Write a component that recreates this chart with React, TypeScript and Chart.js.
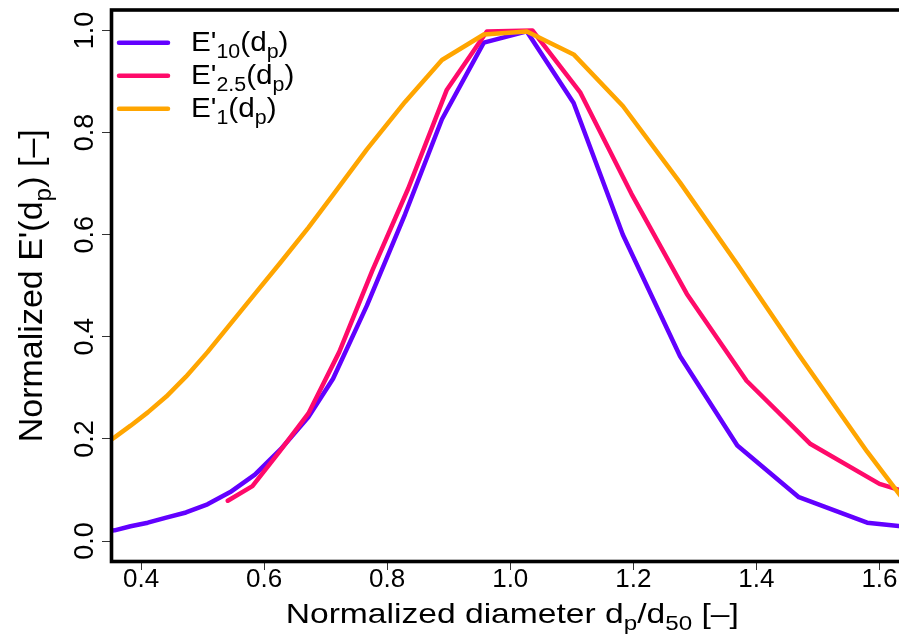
import React, { useEffect, useRef } from 'react';
import { Chart, registerables } from 'chart.js';

Chart.register(...registerables);

// ---- data ----
const xE10 = [0.333, 0.357, 0.383, 0.411, 0.441, 0.473, 0.508, 0.545, 0.585, 0.627, 0.672, 0.712, 0.767, 0.829, 0.889, 0.957, 1.027, 1.103, 1.183, 1.276, 1.369, 1.469, 1.580, 1.690];
const yE10 = [0.018, 0.021, 0.029, 0.036, 0.046, 0.056, 0.072, 0.096, 0.130, 0.180, 0.243, 0.318, 0.461, 0.640, 0.826, 0.976, 0.998, 0.858, 0.600, 0.362, 0.187, 0.086, 0.036, 0.022];

const xE25 = [0.541, 0.581, 0.625, 0.672, 0.722, 0.776, 0.834, 0.897, 0.962, 1.036, 1.114, 1.197, 1.287, 1.384, 1.488, 1.600, 1.720];
const yE25 = [0.079, 0.1075, 0.175, 0.250, 0.370, 0.530, 0.690, 0.884, 0.998, 1.000, 0.878, 0.680, 0.484, 0.314, 0.190, 0.112, 0.068];

const xE1 = [0.333, 0.357, 0.383, 0.411, 0.441, 0.473, 0.508, 0.545, 0.585, 0.627, 0.672, 0.712, 0.767, 0.829, 0.889, 0.957, 1.027, 1.103, 1.183, 1.276, 1.369, 1.469, 1.580, 1.690];
const yE1 = [0.183, 0.203, 0.226, 0.252, 0.283, 0.322, 0.370, 0.425, 0.484, 0.546, 0.614, 0.678, 0.767, 0.860, 0.942, 0.992, 0.998, 0.953, 0.852, 0.702, 0.542, 0.365, 0.175, 0.000];

const xTicks = [0.4, 0.6, 0.8, 1.0, 1.2, 1.4, 1.6];
const yTicks = [0.0, 0.2, 0.4, 0.6, 0.8, 1.0];

const seriesColors = ['#6200FF', '#FF0A6A', '#FFA500'];

type Part = { t: string; sub?: boolean };
const legendLabels: Part[][] = [
  [{ t: "E'" }, { t: '10', sub: true }, { t: '(d' }, { t: 'p', sub: true }, { t: ')' }],
  [{ t: "E'" }, { t: '2.5', sub: true }, { t: '(d' }, { t: 'p', sub: true }, { t: ')' }],
  [{ t: "E'" }, { t: '1', sub: true }, { t: '(d' }, { t: 'p', sub: true }, { t: ')' }],
];
const xTitle: Part[] = [{ t: 'Normalized diameter d' }, { t: 'p', sub: true }, { t: '/d' }, { t: '50', sub: true }, { t: ' [–]' }];
const yTitle: Part[] = [{ t: "Normalized E'(d" }, { t: 'p', sub: true }, { t: ') [–]' }];

const FONT = '"Liberation Sans", Arial, Helvetica, sans-serif';
const SUB = 0.72;

function richWidth(ctx: CanvasRenderingContext2D, parts: Part[], size: number) {
  let w = 0;
  for (const p of parts) {
    ctx.font = `${p.sub ? size * SUB : size}px ${FONT}`;
    w += ctx.measureText(p.t).width;
  }
  return w;
}

function drawRich(ctx: CanvasRenderingContext2D, parts: Part[], size: number, x0: number) {
  let x = x0;
  ctx.textAlign = 'left';
  ctx.textBaseline = 'alphabetic';
  for (const p of parts) {
    const s = p.sub ? size * SUB : size;
    ctx.font = `${s}px ${FONT}`;
    ctx.fillText(p.t, x, p.sub ? size * 0.26 : 0);
    x += ctx.measureText(p.t).width;
  }
}

const decorPlugin = {
  id: 'decor',
  afterDatasetsDraw(chart: any) {
    const ctx: CanvasRenderingContext2D = chart.ctx;
    const { left, right, top, bottom } = chart.chartArea;
    ctx.save();
    // box
    ctx.strokeStyle = '#000';
    ctx.lineWidth = 3.6;
    ctx.strokeRect(left, top, right - left, bottom - top);

    ctx.fillStyle = '#000';
    // x title
    const xs = 28, xsx = 1.2;
    const wx = richWidth(ctx, xTitle, xs) * xsx;
    ctx.save();
    ctx.translate((left + right) / 2 - wx / 2, 623);
    ctx.scale(xsx, 1);
    drawRich(ctx, xTitle, xs, 0);
    ctx.restore();

    // y title
    const ys = 34;
    const wy = richWidth(ctx, yTitle, ys);
    ctx.save();
    ctx.translate(42, (top + bottom) / 2);
    ctx.rotate(-Math.PI / 2);
    drawRich(ctx, yTitle, ys, -wy / 2);
    ctx.restore();

    // legend
    const ls = 27, lsx = 1.1;
    for (let i = 0; i < legendLabels.length; i++) {
      const y = 42.7 + i * 33;
      ctx.strokeStyle = seriesColors[i];
      ctx.lineWidth = 4.5;
      ctx.lineCap = 'round';
      ctx.beginPath();
      ctx.moveTo(119, y);
      ctx.lineTo(168, y);
      ctx.stroke();
      ctx.save();
      ctx.translate(191, y + 8);
      ctx.scale(lsx, 1);
      ctx.fillStyle = '#000';
      drawRich(ctx, legendLabels[i], ls, 0);
      ctx.restore();
    }
    ctx.restore();
  },
};

export default function App() {
  const ref = useRef<HTMLCanvasElement | null>(null);

  useEffect(() => {
    const canvas = ref.current;
    if (!canvas) return;
    const mk = (xs: number[], ys: number[]) => xs.map((x, i) => ({ x, y: ys[i] }));
    const ds = (label: string, xs: number[], ys: number[], color: string, order: number) => ({
      label,
      data: mk(xs, ys),
      borderColor: color,
      backgroundColor: color,
      borderWidth: 4.5,
      pointRadius: 0,
      fill: false,
      tension: 0,
      clip: 0,
      order,
      borderCapStyle: 'round',
      borderJoinStyle: 'round',
    });
    const chart = new Chart(canvas, {
      type: 'line',
      data: {
        datasets: [
          ds("E'10(dp)", xE10, yE10, seriesColors[0], 2),
          ds("E'2.5(dp)", xE25, yE25, seriesColors[1], 1),
          ds("E'1(dp)", xE1, yE1, seriesColors[2], 0),
        ] as any,
      },
      options: {
        responsive: false,
        animation: false,
        devicePixelRatio: 1,
        layout: { padding: { top: 10, right: 1, left: 0, bottom: 0 } },
        plugins: {
          legend: { display: false },
          tooltip: { enabled: false },
          title: { display: false },
        },
        scales: {
          x: {
            type: 'linear',
            min: 0.352,
            max: 1.6545,
            afterBuildTicks: (s: any) => {
              s.ticks = xTicks.map((v) => ({ value: v }));
            },
            afterFit: (s: any) => {
              s.height = 73.5;
              s.paddingLeft = 0;
              s.paddingRight = 0;
            },
            border: { display: false },
            grid: { display: true, drawOnChartArea: false, drawTicks: true, tickLength: 8.5, tickWidth: 1, tickColor: '#333' },
            ticks: {
              autoSkip: false,
              minRotation: 0,
              maxRotation: 0,
              padding: -3,
              color: '#000',
              font: { family: FONT, size: 26, lineHeight: 1 },
              callback: (v: any) => Number(v).toFixed(1),
            },
          },
          y: {
            type: 'linear',
            min: -0.04,
            max: 1.04,
            afterBuildTicks: (s: any) => {
              s.ticks = yTicks.map((v) => ({ value: v }));
            },
            afterFit: (s: any) => {
              s.width = 111.5;
              s.paddingTop = 0;
              s.paddingBottom = 0;
            },
            border: { display: false },
            grid: { display: true, drawOnChartArea: false, drawTicks: true, tickLength: 9.5, tickWidth: 1, tickColor: '#333' },
            ticks: {
              autoSkip: false,
              minRotation: 90,
              maxRotation: 90,
              crossAlign: 'center',
              padding: -2.8,
              color: '#000',
              font: { family: FONT, size: 27, lineHeight: 1.2 },
              callback: (v: any) => Number(v).toFixed(1),
            },
          },
        },
      } as any,
      plugins: [decorPlugin],
    });
    return () => chart.destroy();
  }, []);

  return (
    <div style={{ position: 'fixed', left: 0, top: 0, width: 899, height: 635, overflow: 'hidden', background: '#fff' }}>
      <canvas ref={ref} width={914} height={635} style={{ display: 'block' }} />
    </div>
  );
}
